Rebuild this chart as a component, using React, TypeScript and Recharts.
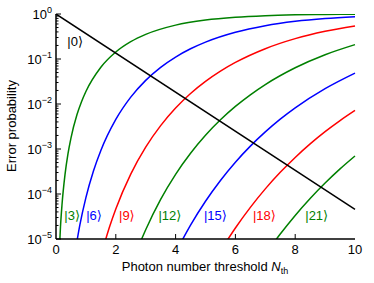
import React from 'react';
import { LineChart, Line, XAxis, YAxis, ReferenceDot } from 'recharts';

// x-axis tick labels
const xTicks = [0, 2, 4, 6, 8, 10];
// y-axis decades (exponents of 10)
const yDecades = [0, -1, -2, -3, -4, -5];

// Series: [photon number threshold, error probability]
const ket0: number[][] = [[0, 1], [10, 4.54e-5]];
const ket3: number[][] = [
  [0.1, 3.85e-6], [0.15, 1.87e-5], [0.2, 5.68e-5], [0.3, 2.66e-4], [0.4, 7.76e-4], [0.5, 1.75e-3],
  [0.7, 5.75e-3], [0.85, 0.01113], [1, 0.019], [1.5, 0.0656], [2, 0.1429], [2.5, 0.2424], [3, 0.3528],
  [4, 0.5665], [5, 0.735], [6, 0.8488], [7, 0.9182], [8, 0.9576], [9, 0.9788], [10, 0.9897],
];
const ket6: number[][] = [
  [0.7, 8.88e-6], [0.8, 2.08e-5], [1, 8.32e-5], [1.25, 3.2e-4], [1.5, 9.26e-4], [2, 4.53e-3],
  [2.5, 0.01419], [3, 0.03351], [3.5, 0.0653], [4, 0.1107], [4.5, 0.1689], [5, 0.2378], [6, 0.3937],
  [7, 0.5503], [8, 0.6866], [9, 0.7932], [10, 0.8699],
];
const ket9: number[][] = [
  [1.6, 7.14e-6], [1.8, 1.94e-5], [2, 4.65e-5], [2.5, 2.77e-4], [3, 1.1e-3], [3.5, 3.31e-3],
  [4, 8.13e-3], [4.5, 0.0171], [5, 0.0318], [5.5, 0.0538], [6, 0.0839], [7, 0.1695], [8, 0.2834],
  [9, 0.4126], [10, 0.5421],
];
const ket12: number[][] = [
  [2.8, 7.9e-6], [3, 1.61e-5], [3.5, 7.6e-5], [4, 2.74e-4], [4.5, 8.05e-4], [5, 2.02e-3],
  [5.5, 4.45e-3], [6, 8.83e-3], [6.5, 0.016], [7, 0.027], [8, 0.0638], [9, 0.1243], [10, 0.2084],
];
const ket15: number[][] = [
  [4.2, 8.87e-6], [4.5, 2.03e-5], [5, 6.9e-5], [5.5, 2.0e-4], [6, 5.09e-4], [6.5, 1.16e-3],
  [7, 2.4e-3], [7.5, 4.61e-3], [8, 8.23e-3], [9, 0.022], [10, 0.0487],
];
const ket18: number[][] = [
  [5.7, 8.8e-6], [6, 1.76e-5], [6.5, 5.05e-5], [7, 1.3e-4], [7.5, 3.03e-4], [8, 6.5e-4],
  [8.5, 1.3e-3], [9, 2.43e-3], [9.5, 4.28e-3], [10, 7.19e-3],
];
const ket21: number[][] = [
  [7.3, 8.6e-6], [7.5, 1.29e-5], [8, 3.34e-5], [8.5, 7.94e-5], [9, 1.75e-4], [9.5, 3.61e-4], [10, 7.0e-4],
];

const GREEN = '#008000';
const BLUE = '#0000ff';
const RED = '#ff0000';

const series = [
  { key: 'k3', label: '|3⟩', data: ket3, color: GREEN },
  { key: 'k6', label: '|6⟩', data: ket6, color: BLUE },
  { key: 'k9', label: '|9⟩', data: ket9, color: RED },
  { key: 'k12', label: '|12⟩', data: ket12, color: GREEN },
  { key: 'k15', label: '|15⟩', data: ket15, color: BLUE },
  { key: 'k18', label: '|18⟩', data: ket18, color: RED },
  { key: 'k21', label: '|21⟩', data: ket21, color: GREEN },
  { key: 'k0', label: '|0⟩', data: ket0, color: '#000000' },
];

// label anchor points (data coordinates)
const labelPos: Record<string, [number, number]> = {
  k0: [0.64, 0.25],
  k3: [0.54, 3.4e-5],
  k6: [1.27, 3.4e-5],
  k9: [2.37, 3.4e-5],
  k12: [3.81, 3.4e-5],
  k15: [5.33, 3.4e-5],
  k18: [6.97, 3.4e-5],
  k21: [8.72, 3.4e-5],
};

const yTicks: number[] = [];
yDecades.forEach((e) => {
  yTicks.push(Math.pow(10, e));
  if (e > -5) {
    for (let m = 2; m <= 9; m++) yTicks.push(m * Math.pow(10, e - 1));
  }
});

const toPts = (arr: number[][]) => arr.map(([x, y]) => ({ x, y }));

const FONT = '"Liberation Sans", Arial, Helvetica, sans-serif';

const isMajor = (v: number) => {
  const l = Math.log10(v);
  return Math.abs(l - Math.round(l)) < 1e-6;
};

const LeftTick = (props: any) => {
  const { x, y, payload } = props;
  const v = payload.value;
  const major = isMajor(v);
  const e = Math.round(Math.log10(v));
  return (
    <g>
      <line x1={x} x2={x + (major ? 5 : 2.5)} y1={y} y2={y} stroke="#000" strokeWidth={1} />
      {major && (
        <text x={x - 4} y={y + 4.5} textAnchor="end" fontSize={13} fill="#000" fontFamily={FONT}>
          10
          <tspan dy={-6} fontSize={9}>{e === 0 ? '0' : '−' + -e}</tspan>
        </text>
      )}
    </g>
  );
};

const RightTick = (props: any) => {
  const { x, y, payload } = props;
  const major = isMajor(payload.value);
  return <line x1={x} x2={x - (major ? 5 : 2.5)} y1={y} y2={y} stroke="#000" strokeWidth={1} />;
};

const BottomTick = (props: any) => {
  const { x, y, payload } = props;
  const v = payload.value;
  return (
    <g>
      {v > 0 && v < 10 && <line x1={x} x2={x} y1={y} y2={y - 5} stroke="#000" strokeWidth={1} />}
      <text x={x} y={y + 15} textAnchor="middle" fontSize={13} fill="#000" fontFamily={FONT}>
        {v}
      </text>
    </g>
  );
};

const TopTick = (props: any) => {
  const { x, y, payload } = props;
  const v = payload.value;
  if (v <= 0 || v >= 10) return <g />;
  return <line x1={x} x2={x} y1={y} y2={y + 5} stroke="#000" strokeWidth={1} />;
};

const XTitle = () => (
  <text x={205} y={271} textAnchor="middle" fontSize={13} fill="#000" fontFamily={FONT}>
    Photon number threshold{' '}
    <tspan fontStyle="italic">N</tspan>
    <tspan fontSize={9} dy={3}>th</tspan>
  </text>
);

const YTitle = () => (
  <text
    x={16}
    y={126}
    transform="rotate(-90 16 126)"
    textAnchor="middle"
    fontSize={13}
    fill="#000"
    fontFamily={FONT}
  >
    Error probability
  </text>
);

const axisLine = { stroke: '#000', strokeWidth: 1.5 };

export default function App() {
  return (
    <div style={{ position: 'absolute', left: 0, top: 0, width: 374, height: 283, background: '#fff', fontFamily: FONT }}>
      <LineChart width={374} height={283} margin={{ top: 14, right: 19, bottom: 0, left: 0 }}>
        <XAxis
          dataKey="x"
          type="number"
          domain={[0, 10]}
          ticks={xTicks}
          height={44}
          tickSize={0}
          tickMargin={0}
          tickLine={false}
          axisLine={axisLine}
          tick={<BottomTick />}
          interval={0}
          label={{ content: () => <XTitle /> } as any}
        />
        <XAxis
          xAxisId="top"
          orientation="top"
          dataKey="x"
          type="number"
          domain={[0, 10]}
          ticks={xTicks}
          height={0}
          tickSize={0}
          tickMargin={0}
          tickLine={false}
          axisLine={axisLine}
          tick={<TopTick />}
          interval={0}
        />
        <YAxis
          type="number"
          scale="log"
          domain={[1e-5, 1]}
          allowDataOverflow
          ticks={yTicks}
          width={56}
          tickSize={0}
          tickMargin={0}
          tickLine={false}
          axisLine={axisLine}
          tick={<LeftTick />}
          interval={0}
          label={{ content: () => <YTitle /> } as any}
        />
        <YAxis
          yAxisId="right"
          orientation="right"
          type="number"
          scale="log"
          domain={[1e-5, 1]}
          allowDataOverflow
          ticks={yTicks}
          width={0}
          tickSize={0}
          tickMargin={0}
          tickLine={false}
          axisLine={axisLine}
          tick={<RightTick />}
          interval={0}
        />
        {series.map((s) => (
          <Line
            key={s.key}
            data={toPts(s.data)}
            dataKey="y"
            type={s.key === 'k0' ? 'linear' : 'monotone'}
            stroke={s.color}
            strokeWidth={1.5}
            dot={false}
            activeDot={false}
            isAnimationActive={false}
          />
        ))}
        {series.map((s) => (
          <ReferenceDot
            key={'l' + s.key}
            x={labelPos[s.key][0]}
            y={labelPos[s.key][1]}
            r={2}
            fill="none"
            stroke="none"
            fillOpacity={0}
            strokeOpacity={0}
            label={{ value: s.label, position: 'center', fill: s.color, fontSize: 13, fontFamily: '"Liberation Sans", "DejaVu Sans", sans-serif' } as any}
          />
        ))}
      </LineChart>
    </div>
  );
}
